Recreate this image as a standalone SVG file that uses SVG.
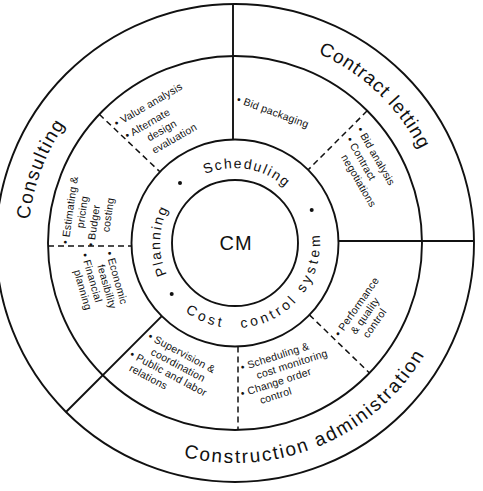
<svg xmlns="http://www.w3.org/2000/svg" width="483" height="491" viewBox="0 0 483 491">
<defs>
<style>
.ln{fill:none;stroke:#111;stroke-width:1.9}
.dash{fill:none;stroke:#111;stroke-width:1.5;stroke-dasharray:6 4}
text{font-family:"Liberation Sans",Arial,sans-serif;fill:#111}
.sm{font-size:10.5px;letter-spacing:0.2px}
.rg{font-size:14px}
.big{font-size:19px}
</style>
<path id="pSched" d="M160,243 A75,75 0 0 1 310,243"/>
<path id="pPlan" d="M235,318 A75,75 0 0 1 235,168"/>
<path id="pCost" d="M151.29,257.76 A85,85 0 1 0 300.11,188.36"/>
<path id="pCons" d="M131.5,422.27 A207,207 0 0 1 338.5,63.73"/>
<path id="pContr" d="M131.5,63.73 A207,207 0 0 1 338.5,422.27"/>
<path id="pAdm" d="M15,243 A220,220 0 0 0 455,243"/>
</defs>
<rect width="483" height="491" fill="#fff"/>
<g id="rings">
<circle class="ln" cx="235" cy="243" r="239"/>
<circle class="ln" cx="235" cy="243" r="187"/>
<circle class="ln" cx="235" cy="243" r="103.5"/>
<circle class="ln" cx="235" cy="243" r="63"/>
</g>
<g id="connectors">
<line class="ln" x1="233" y1="4" x2="233" y2="139.5"/>
<line class="ln" x1="338.5" y1="241" x2="474" y2="241"/>
<line class="ln" x1="161.8" y1="316.2" x2="66" y2="412"/>
<line class="dash" x1="99.3" y1="114.3" x2="159.9" y2="171.8"/>
<line class="dash" x1="367.2" y1="110.8" x2="308.2" y2="169.8"/>
<line class="dash" x1="309.4" y1="314.9" x2="369.5" y2="373"/>
<line class="dash" x1="238" y1="346.5" x2="238" y2="430"/>
<line class="dash" x1="48" y1="246" x2="131.5" y2="246"/>
</g>
<g id="cm"><text x="236" y="249.7" font-size="20" text-anchor="middle" letter-spacing="1">CM</text></g>
<g id="inner-ring">
<text class="rg" letter-spacing="1.75"><textPath href="#pSched" startOffset="86.9">Scheduling</textPath></text>
<text class="rg" letter-spacing="1.8"><textPath href="#pPlan" startOffset="85.2">Planning</textPath></text>
<text class="rg" letter-spacing="3.4"><textPath href="#pCost" startOffset="65.4">Cost</textPath></text>
<text class="rg" letter-spacing="3.4"><textPath href="#pCost" startOffset="124.5">control</textPath></text>
<text class="rg" letter-spacing="3.4"><textPath href="#pCost" startOffset="198.4">system</textPath></text>
<circle cx="180" cy="183" r="2" fill="#111"/>
<circle cx="311.7" cy="210" r="2" fill="#111"/>
<circle cx="171.7" cy="294" r="2" fill="#111"/>
</g>
<g id="consulting">
<text class="big" letter-spacing="1.4"><textPath href="#pCons" startOffset="239.9">Consulting</textPath></text>
</g>
<g id="contract-letting">
<text class="big" letter-spacing="1.0"><textPath href="#pContr" startOffset="193.6">Contract letting</textPath></text>
</g>
<g id="construction-administration">
<text class="big" letter-spacing="1.9"><textPath href="#pAdm" startOffset="293.4">Construction administration</textPath></text>
</g>
<g id="value-analysis">
<text class="sm" transform="translate(116.7,122.7) rotate(-30)"><tspan x="-2" y="3.8">• Value analysis</tspan><tspan x="1" y="19.8">• Alternate</tspan><tspan x="19" y="32.8">design</tspan><tspan x="17" y="46">evaluation</tspan></text>
</g>
<g id="bid-packaging">
<text class="sm" transform="translate(239.3,99.3) rotate(20)"><tspan x="-2" y="3.8">• Bid packaging</tspan></text>
</g>
<g id="bid-analysis">
<text class="sm" transform="translate(360.7,129.3) rotate(60)"><tspan x="-2" y="3.8">• Bid analysis</tspan><tspan x="1.5" y="17.8">• Contract</tspan><tspan x="14" y="31">negotiations</tspan></text>
</g>
<g id="estimating">
<text class="sm" transform="translate(65,242) rotate(-82)"><tspan x="-2" y="3.8">• Estimating &amp;</tspan><tspan x="16" y="16.5">pricing</tspan><tspan x="-1" y="29.5">• Budger</tspan><tspan x="15.5" y="42.5">costing</tspan></text>
</g>
<g id="economic">
<text class="sm" transform="translate(110,253.3) rotate(74)"><tspan x="-2" y="3.8">• Economic</tspan><tspan x="8.5" y="15.8">feasibility</tspan><tspan x="-7" y="27.8">• Financial</tspan><tspan x="7" y="39.8">planning</tspan></text>
</g>
<g id="supervision">
<text class="sm" transform="translate(150.7,336) rotate(28)"><tspan x="-2" y="3.8">• Supervision &amp;</tspan><tspan x="8" y="16.3">coordination</tspan><tspan x="-9.5" y="28.3">• Public and labor</tspan><tspan x="-3.5" y="40.8">relations</tspan></text>
</g>
<g id="scheduling-cost">
<text class="sm" transform="translate(242.7,366.7) rotate(-18)"><tspan x="-2" y="3.8">• Scheduling &amp;</tspan><tspan x="10.5" y="16.3">cost monitoring</tspan><tspan x="-10" y="28.8">• Change order</tspan><tspan x="6" y="41.3">control</tspan></text>
</g>
<g id="performance">
<text class="sm" transform="translate(337.7,333.3) rotate(-55)"><tspan x="-2" y="3.8">• Performance</tspan><tspan x="9" y="15.8">&amp; quality</tspan><tspan x="13" y="28">control</tspan></text>
</g>
</svg>
